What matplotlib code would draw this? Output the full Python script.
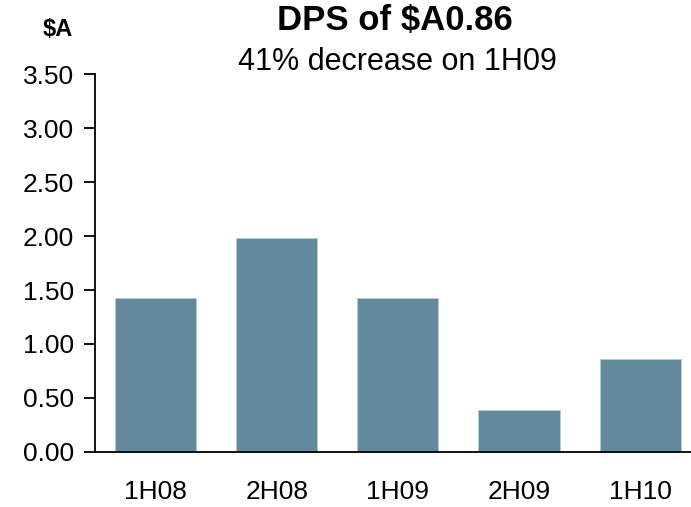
import matplotlib
matplotlib.use("Agg")
import matplotlib.pyplot as plt

periods = ["1H08", "2H08", "1H09", "2H09", "1H10"]
dps = [1.43, 1.98, 1.43, 0.39, 0.86]
yticks = [0.0, 0.5, 1.0, 1.5, 2.0, 2.5, 3.0, 3.5]

plt.rcParams["font.family"] = ["Liberation Sans", "DejaVu Sans"]

fig = plt.figure(figsize=(6.91, 5.07), dpi=100)
ax = fig.add_axes([0.1375, 0.1085, 0.8625, 0.7455])

ax.bar(range(len(periods)), dps, width=0.67, color="#628a9c",
       edgecolor="#b4c9d2", linewidth=0.6)

ax.set_xlim(-0.5, 4.42)
ax.set_ylim(0, 3.5)
ax.set_yticks(yticks)
ax.set_yticklabels([f"{v:.2f}" for v in yticks], fontsize=19)
ax.set_xticks(range(len(periods)))
ax.set_xticklabels(periods, fontsize=19)

for s in ["top", "right"]:
    ax.spines[s].set_visible(False)
ax.spines["left"].set_linewidth(1.3)
ax.spines["bottom"].set_linewidth(1.3)
ax.tick_params(axis="y", direction="out", length=8, width=1.3, pad=7)
ax.tick_params(axis="x", length=0, pad=20)

fig.text(0.572, 0.959, "DPS of $A0.86", ha="center", va="center",
         fontsize=25, fontweight="bold")
fig.text(0.575, 0.878, "41% decrease on 1H09", ha="center", va="center",
         fontsize=22)
fig.text(0.084, 0.942, "$A", ha="center", va="center",
         fontsize=17, fontweight="bold")

fig.savefig("out.png", dpi=100)
